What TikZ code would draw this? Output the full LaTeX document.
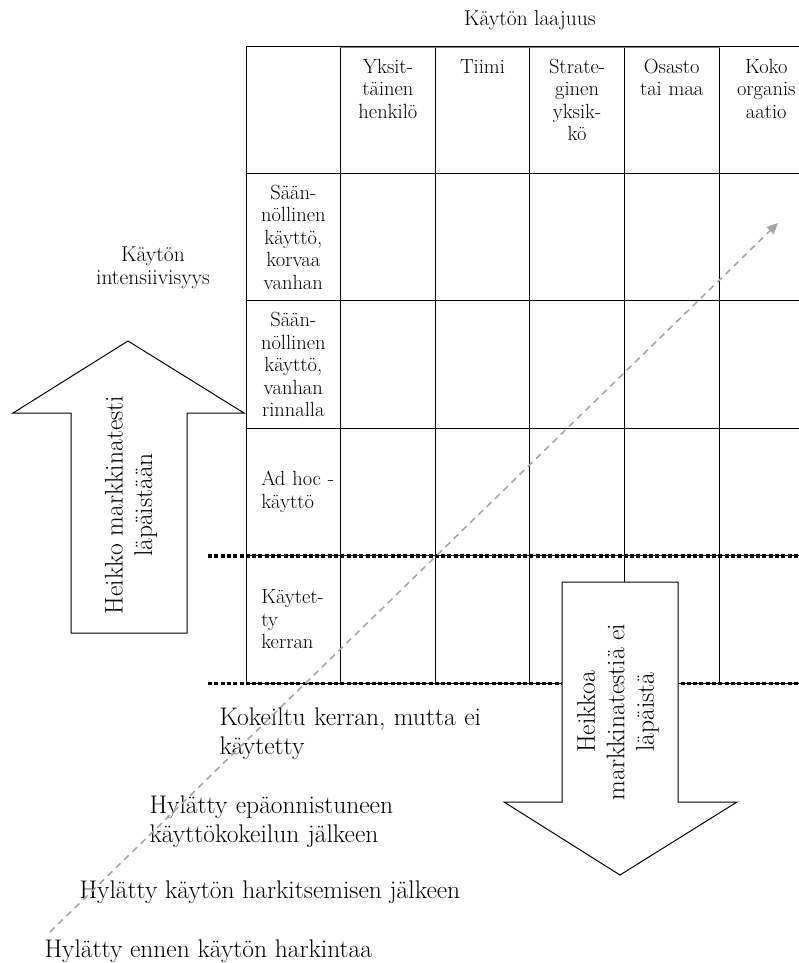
\documentclass[tikz,border=0pt]{standalone}
\usepackage{tikz}
\usetikzlibrary{matrix, calc, positioning, arrows.meta}
\usepackage{xcolor}

\definecolor{trendgray}{RGB}{166,166,166}
\newcommand{\cellfont}{\fontsize{20.5}{22.5}\selectfont}
\newcommand{\lblfont}{\fontsize{21.5}{23}\selectfont}
\newcommand{\bigfont}{\fontsize{25.5}{29.5}\selectfont}

\begin{document}
\begin{tikzpicture}[x=1pt, y=-1pt, line width=1pt,
        matr/.style={
            matrix of nodes,
            inner sep=0pt,
            row sep=-\pgflinewidth,
            column sep=-\pgflinewidth,
            nodes={draw, anchor=center, minimum width=94.6pt, minimum height=127.4pt,
                   text width=86pt, align=center, inner sep=3pt, font=\cellfont},
            nodes in empty cells
        },
        headcell/.style={text height=24pt, text depth=97.4pt},
        leftcell/.style={text width=64pt, align=left},
        lbl/.style={font=\lblfont, align=center, inner sep=0pt},
        bigtxt/.style={font=\bigfont, inner sep=0pt},
        fatarrow/.style={draw, fill=white},
        dotline/.style={line width=3.5pt, dash pattern=on 4pt off 2.3pt},
        trend/.style={trendgray, line width=1.6pt, dash pattern=on 6.5pt off 5pt,
                      -{Triangle[length=11pt,width=10pt]}}]
    \useasboundingbox (0,0) rectangle (798,963);

    \matrix (m) [matr, anchor=north west] at (245,45) {
        |[headcell]| & |[headcell]| {Yksit-\\täinen\\henkilö} & |[headcell]| Tiimi & |[headcell]| {Strate-\\ginen\\yksik-\\kö} & |[headcell]| {Osasto\\tai maa} & |[headcell]| {Koko\\organis\\aatio} \\
        {Sään-\\nöllinen\\käyttö,\\korvaa\\vanhan} & & & & & \\
        {Sään-\\nöllinen\\käyttö,\\vanhan\\rinnalla} & & & & & \\
        |[leftcell]| {\mbox{Ad hoc -}\\käyttö} & & & & & \\
        |[leftcell]| {Käytet-\\ty\\kerran} & & & & & \\
    };
    % lighter top edge over the middle headers
    \draw[white, line width=1.5pt] ([xshift=1pt]m-1-2.north west) -- ([xshift=-1pt]m-1-5.north east);
    \draw[gray, line width=0.6pt] ([yshift=-2pt]m-1-2.north west) -- ([yshift=-2pt]m-1-5.north east);

    % market test limits
    \coordinate (dotstart) at (208,0);
    \draw[dotline] (dotstart |- m-4-1.south west) -- (m-4-6.south east);
    \draw[dotline] (dotstart |- m-5-1.south west) -- (m-5-6.south east);

    \node (laajuus) [lbl, above=15pt of m] {Käytön laajuus};
    \node (intens) [lbl] at (153,268) {Käytön\\intensiivisyys};

    % big arrows
    \draw[fatarrow] (71,633) -- (71,413) -- (13,413) -- (128,341) -- (244,413) -- (187,413) -- (187,633) -- cycle;
    \node (lapaisy) [bigtxt, rotate=90, align=center] at (131,505) {Heikko markkinatesti\\läpäistään};
    \draw[fatarrow] (562,582) -- (562,802) -- (504,802) -- (620,875) -- (737,802) -- (678,802) -- (678,582) -- cycle;
    \node (hylkays) [bigtxt, rotate=90, align=center] at (618,712) {Heikkoa\\markkinatestiä ei\\läpäistä};

    \node (kokeiltu) [bigtxt, text width=300pt, align=left, anchor=base west] at (219,725) {Kokeiltu kerran, mutta ei\\käytetty};
    \node (epaonn) [bigtxt, text width=300pt, align=left, anchor=base west] at (149,813) {Hylätty epäonnistuneen\\käyttökokeilun jälkeen};
    \node (harkinta) [bigtxt, anchor=base west] at (79,898) {Hylätty käytön harkitsemisen jälkeen};
    \node (ennen) [bigtxt, anchor=base west] at (44,957) {Hylätty ennen käytön harkintaa};

    % adoption path
    \coordinate (trendstart) at (50,932);
    \coordinate (trendend) at (778,223);
    \draw[trend] (trendstart) -- (trendend);
\end{tikzpicture}
\end{document}
